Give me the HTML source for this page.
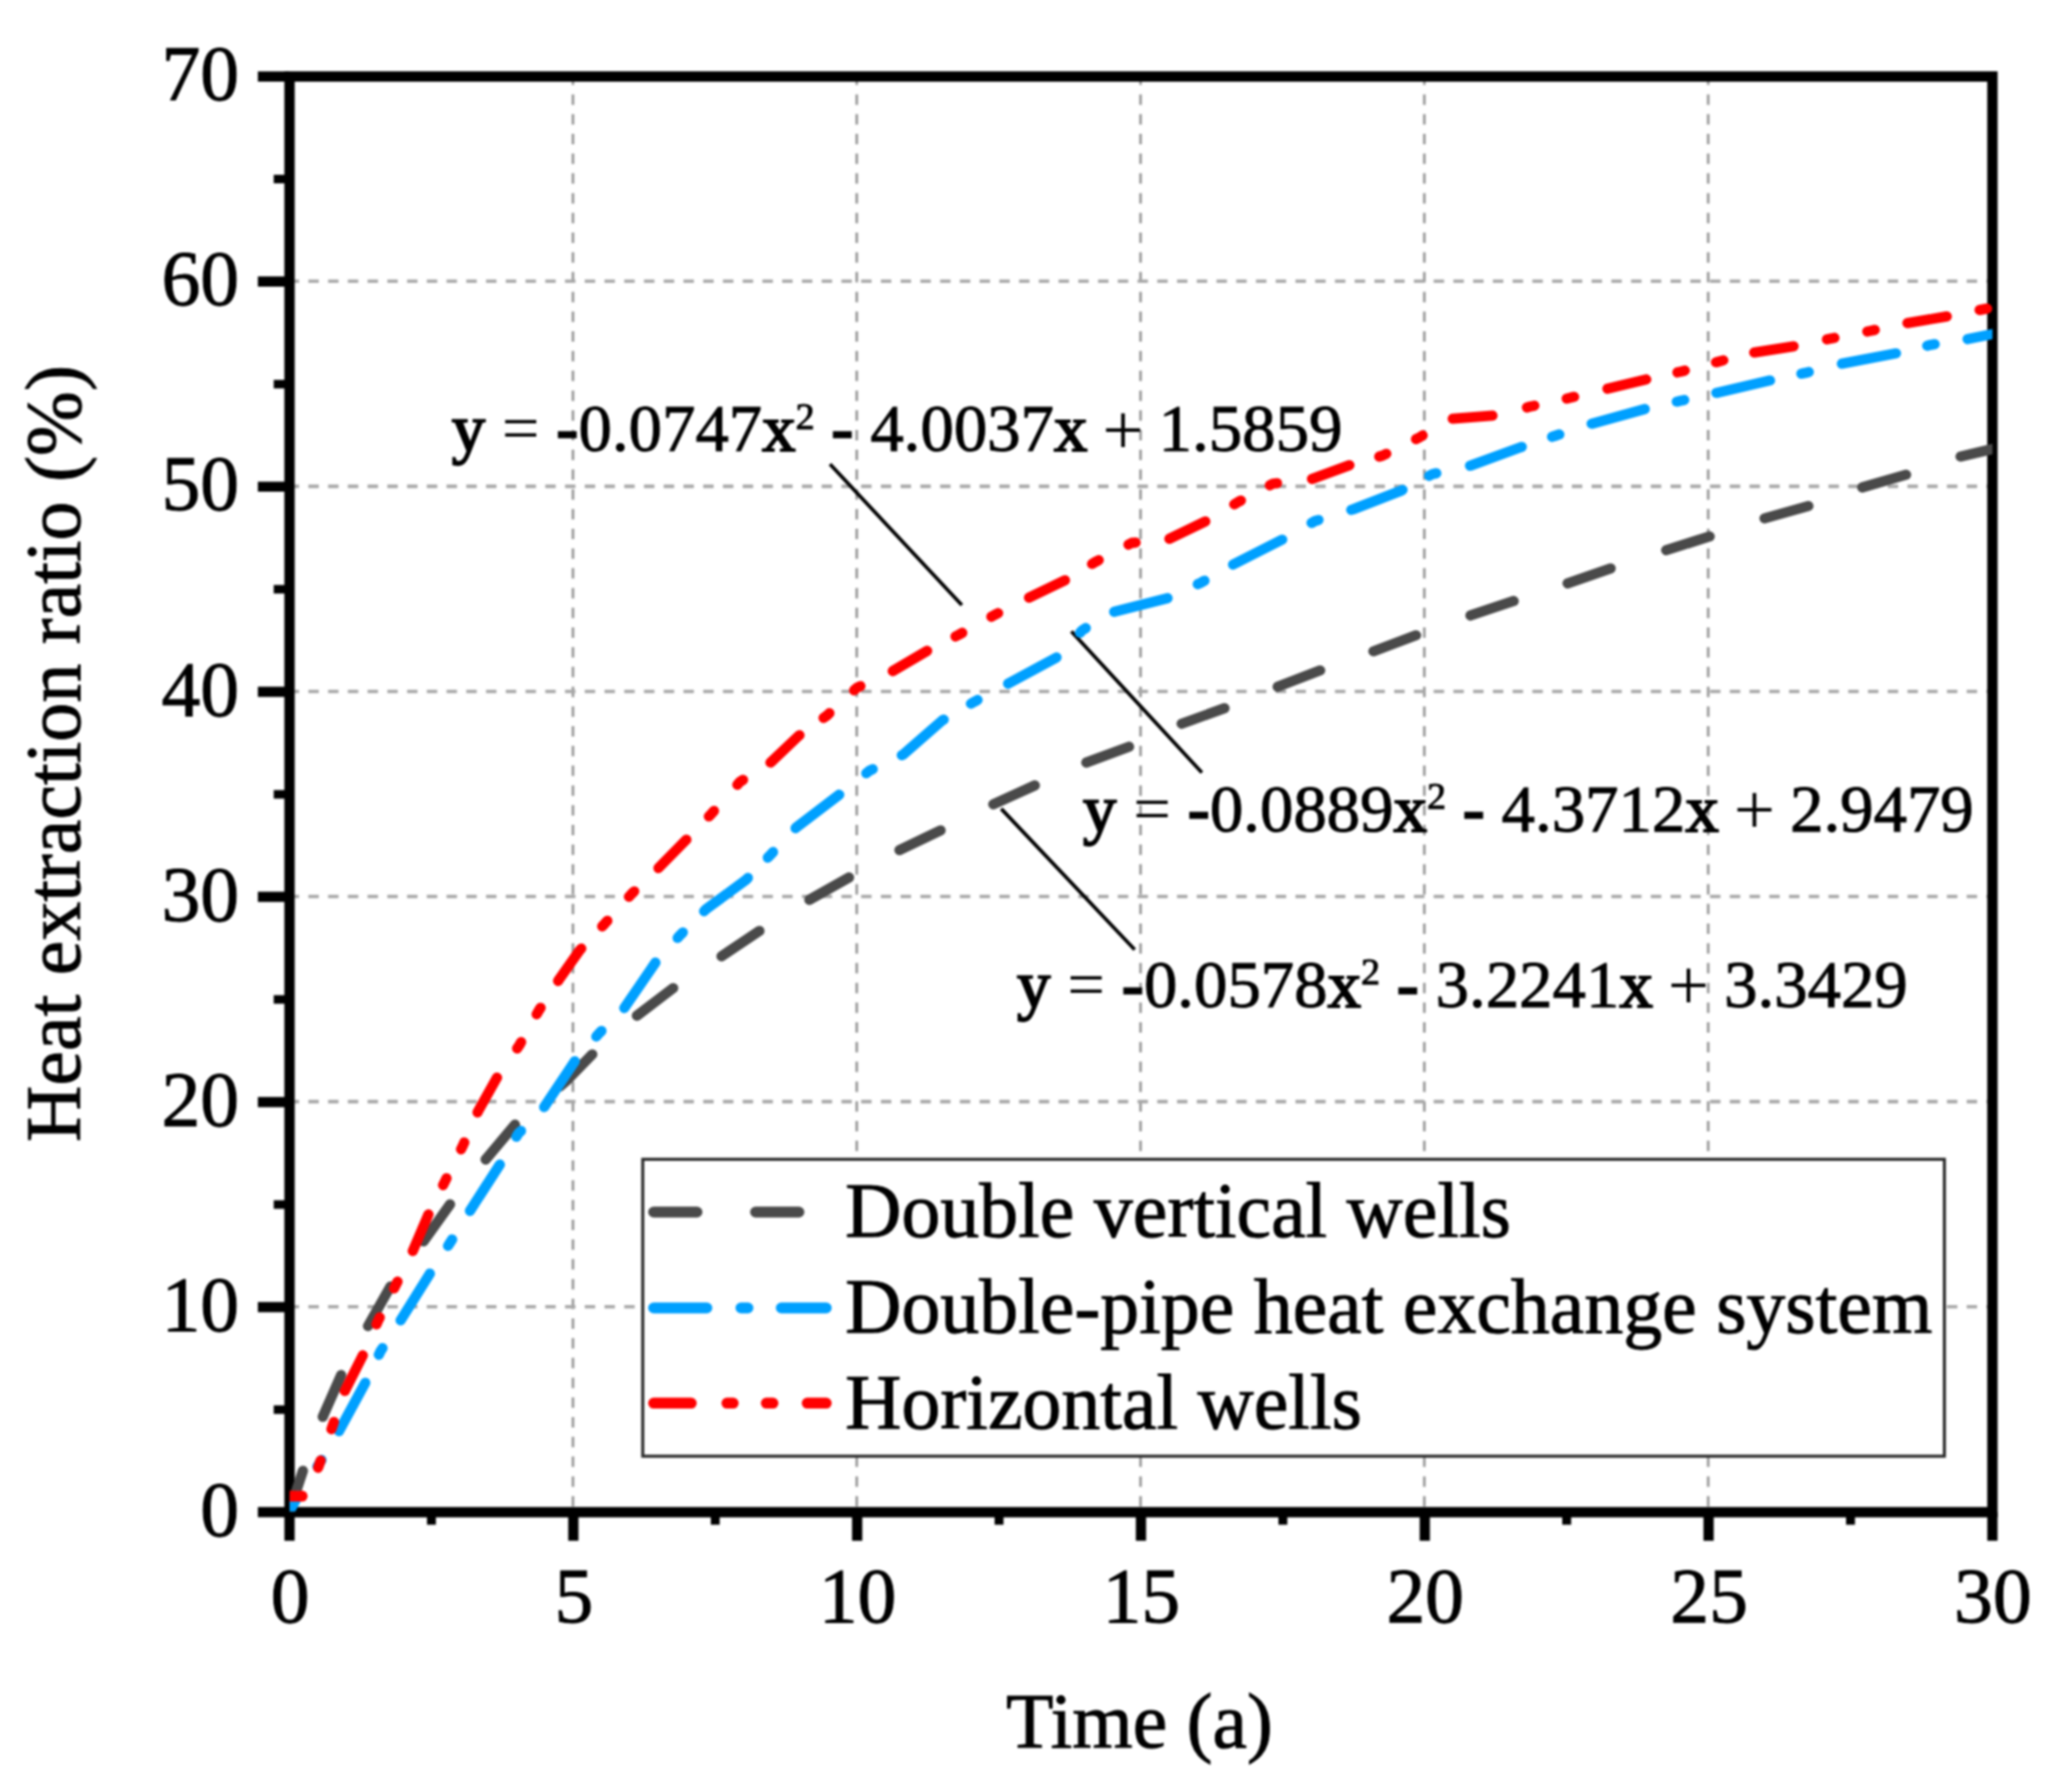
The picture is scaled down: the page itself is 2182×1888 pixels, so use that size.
<!DOCTYPE html>
<html lang="en"><head><meta charset="utf-8"><title>Heat extraction ratio vs time</title>
<style>html,body{margin:0;padding:0;background:#fff;}svg{display:block;filter:blur(0.9px);}text{font-family:"Liberation Serif", "Times New Roman", Times, serif;fill:#000;stroke:#000;stroke-width:1px;}</style>
</head><body>
<svg width="2182" height="1888" viewBox="0 0 2182 1888">
<rect x="0" y="0" width="2182" height="1888" fill="#ffffff"/>
<defs><clipPath id="plotclip"><rect x="305.2" y="80.6" width="1794.1" height="1512.0"/></clipPath></defs>
<g fill="none" stroke-dasharray="11 9.8">
<line x1="603.7" y1="85.6" x2="603.7" y2="1588.2" stroke="#9a9a9a" stroke-width="2.8" stroke-dashoffset="7"/>
<line x1="902.7" y1="85.6" x2="902.7" y2="1588.2" stroke="#9a9a9a" stroke-width="2.8" stroke-dashoffset="7"/>
<line x1="1201.7" y1="85.6" x2="1201.7" y2="1588.2" stroke="#9a9a9a" stroke-width="2.8" stroke-dashoffset="7"/>
<line x1="1500.7" y1="85.6" x2="1500.7" y2="1588.2" stroke="#9a9a9a" stroke-width="2.8" stroke-dashoffset="7"/>
<line x1="1799.8" y1="85.6" x2="1799.8" y2="1588.2" stroke="#9a9a9a" stroke-width="2.8" stroke-dashoffset="7"/>
<line x1="310.1" y1="1376.7" x2="2094.2" y2="1376.7" stroke="#a8a8a8" stroke-width="3.6" stroke-dashoffset="6"/>
<line x1="310.1" y1="1160.6" x2="2094.2" y2="1160.6" stroke="#a8a8a8" stroke-width="3.6" stroke-dashoffset="6"/>
<line x1="310.1" y1="944.5" x2="2094.2" y2="944.5" stroke="#a8a8a8" stroke-width="3.6" stroke-dashoffset="6"/>
<line x1="310.1" y1="728.5" x2="2094.2" y2="728.5" stroke="#a8a8a8" stroke-width="3.6" stroke-dashoffset="6"/>
<line x1="310.1" y1="512.4" x2="2094.2" y2="512.4" stroke="#a8a8a8" stroke-width="3.6" stroke-dashoffset="6"/>
<line x1="310.1" y1="296.3" x2="2094.2" y2="296.3" stroke="#a8a8a8" stroke-width="3.6" stroke-dashoffset="6"/>
</g>
<g stroke="#000" stroke-width="3.8" fill="none">
<line x1="874.5" y1="489" x2="1013.4" y2="637.5"/>
<line x1="1128.8" y1="665.2" x2="1266.3" y2="814"/>
<line x1="1054.9" y1="852.1" x2="1195.5" y2="1000.5"/>
</g>
<text x="475.9" y="475.4" font-size="70.4" xml:space="preserve"><tspan stroke-width="2">y</tspan> <tspan stroke-width="0">=</tspan> <tspan font-weight="bold" stroke="#000" stroke-width="1.6">-</tspan>0.0747<tspan stroke-width="2">x</tspan><tspan font-size="40" dy="-23.5">2</tspan><tspan dy="23.5"> </tspan><tspan font-weight="bold" stroke="#000" stroke-width="1.6">-</tspan> 4.0037<tspan stroke-width="2">x</tspan> <tspan font-size="77" stroke-width="0" dx="-1.8" dy="2.4">+</tspan><tspan dx="-1.8" dy="-2.4"> </tspan>1.5859</text>
<text x="1141.1" y="875.7" font-size="70.4" xml:space="preserve"><tspan stroke-width="2">y</tspan> <tspan stroke-width="0">=</tspan> <tspan font-weight="bold" stroke="#000" stroke-width="1.6">-</tspan>0.0889<tspan stroke-width="2">x</tspan><tspan font-size="40" dy="-23.5">2</tspan><tspan dy="23.5"> </tspan><tspan font-weight="bold" stroke="#000" stroke-width="1.6">-</tspan> 4.3712<tspan stroke-width="2">x</tspan> <tspan font-size="77" stroke-width="0" dx="-1.8" dy="2.4">+</tspan><tspan dx="-1.8" dy="-2.4"> </tspan>2.9479</text>
<text x="1071.6" y="1060.8" font-size="70.4" xml:space="preserve"><tspan stroke-width="2">y</tspan> <tspan stroke-width="0">=</tspan> <tspan font-weight="bold" stroke="#000" stroke-width="1.6">-</tspan>0.0578<tspan stroke-width="2">x</tspan><tspan font-size="40" dy="-23.5">2</tspan><tspan dy="23.5"> </tspan><tspan font-weight="bold" stroke="#000" stroke-width="1.6">-</tspan> 3.2241<tspan stroke-width="2">x</tspan> <tspan font-size="77" stroke-width="0" dx="-1.8" dy="2.4">+</tspan><tspan dx="-1.8" dy="-2.4"> </tspan>3.3429</text>
<rect x="677.2" y="1221.4" width="1371.4" height="312.8" fill="#fff" stroke="#2a2a2a" stroke-width="3.2"/>
<g stroke-width="11.6" stroke-linecap="round" fill="none">
<path d="M688.7,1277 H870.5" stroke="#4a4a4a" stroke-dasharray="45.6 61.8"/>
<path d="M688.7,1378 H870.5" stroke="#00a0ff" stroke-dasharray="56 36 7.3 35.2"/>
<path d="M688.7,1478.3 H870.5" stroke="#ff0000" stroke-dasharray="39.6 37.6 6.6 34.9 7 36.1"/>
</g>
<text x="890.6" y="1303" font-size="82">Double vertical wells</text>
<text x="890.6" y="1403.6" font-size="82">Double-pipe heat exchange system</text>
<text x="890.6" y="1505.4" font-size="82">Horizontal wells</text>
<g stroke="#000" fill="none" stroke-linecap="butt">
<rect x="305.05" y="80.60" width="1794.15" height="1512.60" stroke-width="10.9"/>
<line x1="271.7" y1="1593.20" x2="305.05" y2="1593.20" stroke-width="10.7"/>
<line x1="271.7" y1="1377.11" x2="305.05" y2="1377.11" stroke-width="10.7"/>
<line x1="271.7" y1="1161.03" x2="305.05" y2="1161.03" stroke-width="10.7"/>
<line x1="271.7" y1="944.94" x2="305.05" y2="944.94" stroke-width="10.7"/>
<line x1="271.7" y1="728.86" x2="305.05" y2="728.86" stroke-width="10.7"/>
<line x1="271.7" y1="512.77" x2="305.05" y2="512.77" stroke-width="10.7"/>
<line x1="271.7" y1="296.69" x2="305.05" y2="296.69" stroke-width="10.7"/>
<line x1="271.7" y1="80.60" x2="305.05" y2="80.60" stroke-width="10.7"/>
<line x1="288.4" y1="1485.16" x2="305.05" y2="1485.16" stroke-width="9"/>
<line x1="288.4" y1="1269.07" x2="305.05" y2="1269.07" stroke-width="9"/>
<line x1="288.4" y1="1052.99" x2="305.05" y2="1052.99" stroke-width="9"/>
<line x1="288.4" y1="836.90" x2="305.05" y2="836.90" stroke-width="9"/>
<line x1="288.4" y1="620.81" x2="305.05" y2="620.81" stroke-width="9"/>
<line x1="288.4" y1="404.73" x2="305.05" y2="404.73" stroke-width="9"/>
<line x1="288.4" y1="188.64" x2="305.05" y2="188.64" stroke-width="9"/>
<line x1="305.05" y1="1593.20" x2="305.05" y2="1623.3" stroke-width="10.8"/>
<line x1="604.08" y1="1593.20" x2="604.08" y2="1623.3" stroke-width="10.8"/>
<line x1="903.10" y1="1593.20" x2="903.10" y2="1623.3" stroke-width="10.8"/>
<line x1="1202.12" y1="1593.20" x2="1202.12" y2="1623.3" stroke-width="10.8"/>
<line x1="1501.15" y1="1593.20" x2="1501.15" y2="1623.3" stroke-width="10.8"/>
<line x1="1800.17" y1="1593.20" x2="1800.17" y2="1623.3" stroke-width="10.8"/>
<line x1="2099.20" y1="1593.20" x2="2099.20" y2="1623.3" stroke-width="10.8"/>
<line x1="454.56" y1="1593.20" x2="454.56" y2="1606.4" stroke-width="9.4"/>
<line x1="753.59" y1="1593.20" x2="753.59" y2="1606.4" stroke-width="9.4"/>
<line x1="1052.61" y1="1593.20" x2="1052.61" y2="1606.4" stroke-width="9.4"/>
<line x1="1351.64" y1="1593.20" x2="1351.64" y2="1606.4" stroke-width="9.4"/>
<line x1="1650.66" y1="1593.20" x2="1650.66" y2="1606.4" stroke-width="9.4"/>
<line x1="1949.69" y1="1593.20" x2="1949.69" y2="1606.4" stroke-width="9.4"/>
</g>
<g font-size="81.8">
<text x="252" y="1617.8" text-anchor="end">0</text>
<text x="252" y="1401.7" text-anchor="end">10</text>
<text x="252" y="1185.6" text-anchor="end">20</text>
<text x="252" y="969.5" text-anchor="end">30</text>
<text x="252" y="753.5" text-anchor="end">40</text>
<text x="252" y="537.4" text-anchor="end">50</text>
<text x="252" y="321.3" text-anchor="end">60</text>
<text x="252" y="105.2" text-anchor="end">70</text>
<text x="305.6" y="1708.6" text-anchor="middle">0</text>
<text x="604.6" y="1708.6" text-anchor="middle">5</text>
<text x="903.6" y="1708.6" text-anchor="middle">10</text>
<text x="1202.6" y="1708.6" text-anchor="middle">15</text>
<text x="1501.6" y="1708.6" text-anchor="middle">20</text>
<text x="1800.7" y="1708.6" text-anchor="middle">25</text>
<text x="2099.7" y="1708.6" text-anchor="middle">30</text>
<text x="1200.5" y="1841" text-anchor="middle">Time (a)</text>
<text transform="translate(84.2,1203) rotate(-90)" x="0" y="0" font-size="82.1">Heat extraction ratio (%)</text>
</g>
<g clip-path="url(#plotclip)" stroke-width="10.8" stroke-linecap="round" stroke-linejoin="round" fill="none">
<path d="M305.0,1592.4 L319.0,1550.0 L339.5,1494.0 L360.0,1447.5 L387.7,1397.2 L411.4,1355.3 L446.3,1307.9 L474.2,1268.8 L511.8,1221.4 L542.5,1185.1 L597.8,1137.8 L624.4,1110.5 L670.0,1070.9 L710.4,1040.2 L759.3,1008.1 L801.1,980.2 L852.7,948.1 L894.6,924.4 L946.0,896.4 L992.8,874.0 L1044.5,848.3 L1092.5,826.5 L1142.7,804.1 L1191.6,786.0 L1243.2,763.1 L1292.0,745.5 L1344.8,724.1 L1392.3,705.8 L1446.5,686.4 L1492.5,669.1 L1548.3,648.8 L1595.8,632.9 L1651.0,614.8 L1697.6,598.6 L1754.3,580.0 L1802.5,564.8 L1856.0,547.0 L1908.5,532.2 L1959.6,514.2 L2010.7,499.4 L2063.1,481.6 L2099.3,473.0" stroke="#4a4a4a" stroke-dasharray="45.0 60.7 48.0 58.9 48.0 58.9 48.0 60.3 48.0 62.2 48.0 62.2 48.0 61.0 48.0 62.0 48.0 60.5 48.0 62.0 48.0 59.4 48.0 60.5 48.0 60.4 48.0 59.6 48.0 61.0 48.0 59.8 48.0 61.6 48.0 60.9 48.0 60.1 48.0 60.6 48.0 100.0"/>
<path d="M305.0,1592.4 L313.8,1576.5 L336.6,1541.6 L356.5,1509.0 L385.4,1455.8 L400.8,1423.8 L421.7,1391.6 L453.2,1341.4 L474.2,1309.3 L495.1,1275.8 L526.6,1227.0 L546.1,1194.3 L573.4,1166.3 L605.5,1118.2 L630.9,1089.0 L657.4,1062.5 L690.9,1013.7 L716.6,985.2 L743.9,957.9 L785.8,927.2 L811.7,900.7 L838.8,871.9 L883.4,837.9 L915.8,812.2 L951.7,794.9 L992.8,759.0 L1026.4,739.4 L1061.8,720.4 L1113.4,692.5 L1140.5,663.8 L1172.0,645.1 L1232.0,629.7 L1265.5,613.8 L1299.0,594.9 L1351.0,568.5 L1385.3,549.0 L1425.6,536.6 L1475.8,517.1 L1509.3,499.5 L1549.2,490.6 L1602.7,471.0 L1639.0,459.0 L1676.7,446.5 L1733.0,431.0 L1770.5,422.3 L1806.2,414.4 L1866.8,400.4 L1901.7,392.9 L1939.4,383.4 L1998.6,372.1 L2034.3,363.3 L2072.5,357.4 L2099.3,352.0" stroke="#00a0ff" stroke-dasharray="19.0 36.9 8.0 35.5 58.0 32.8 8.0 35.0 58.0 35.0 8.0 35.5 58.0 34.1 8.0 35.0 58.0 34.6 8.0 34.1 58.0 35.0 8.0 31.6 58.0 30.0 8.0 34.6 58.0 36.4 8.0 34.1 58.0 33.2 8.0 36.5 58.0 35.8 8.0 34.6 58.0 35.1 8.0 34.6 58.0 35.6 8.0 36.1 58.0 31.8 8.0 36.4 58.0 33.7 8.0 35.9 58.0 34.7 8.0 34.7 58.0 33.8 8.0 36.0 58.0 33.9 8.0 35.1 58.0 100.0"/>
<path d="M335.2,1546.3 L336.5,1542.5 L350.5,1502.0 L362.5,1467.0 L383.0,1426.5 L398.3,1391.6 L417.0,1353.9 L434.5,1319.0 L451.8,1278.6 L468.6,1245.1 L487.5,1207.4 L503.5,1171.2 L523.0,1136.3 L547.0,1101.5 L567.3,1065.3 L589.1,1031.8 L610.8,1001.1 L637.1,973.2 L665.2,942.0 L693.7,914.6 L723.0,884.8 L749.5,857.4 L779.4,823.9 L812.3,803.0 L841.6,775.1 L870.9,754.2 L902.8,724.6 L939.1,707.9 L978.1,685.0 L1010.2,668.8 L1047.9,647.9 L1082.8,630.3 L1123.2,610.8 L1153.9,592.1 L1192.4,572.0 L1230.6,568.4 L1271.1,548.8 L1303.7,529.3 L1341.3,509.5 L1380.9,505.1 L1422.8,489.7 L1456.8,480.0 L1495.3,461.0 L1526.4,441.5 L1576.2,437.6 L1612.5,428.3 L1654.4,419.1 L1692.9,409.7 L1734.8,399.7 L1771.0,391.5 L1811.6,380.7 L1846.6,371.6 L1891.0,364.6 L1928.6,356.8 L1971.1,348.5 L2008.0,340.7 L2052.4,333.1 L2089.5,325.9 L2099.3,324.0" stroke="#ff0000" stroke-dasharray="8.0 34.9 8.0 34.7 42.0 35.8 8.0 34.1 8.0 36.0 42.0 34.5 8.0 34.2 8.0 34.6 42.0 37.3 8.0 33.5 8.0 33.8 42.0 32.1 8.0 34.0 8.0 35.4 42.0 34.0 8.0 36.9 8.0 34.2 42.0 31.2 8.0 35.5 8.0 37.6 42.0 33.6 8.0 35.1 8.0 36.5 42.0 33.4 8.0 35.4 8.0 35.9 42.0 35.5 8.0 34.5 8.0 37.2 42.0 32.7 8.0 34.9 8.0 36.7 42.0 37.4 8.0 34.9 8.0 36.2 42.0 33.7 8.0 34.0 8.0 33.6 42.0 35.9 8.0 35.3 8.0 35.2 42.0 35.3 8.0 106.0"/>
<path d="M296,1576.3 L318.3,1576.3" stroke="#ff0000" stroke-width="11.6"/>
</g>
</svg>
</body></html>
